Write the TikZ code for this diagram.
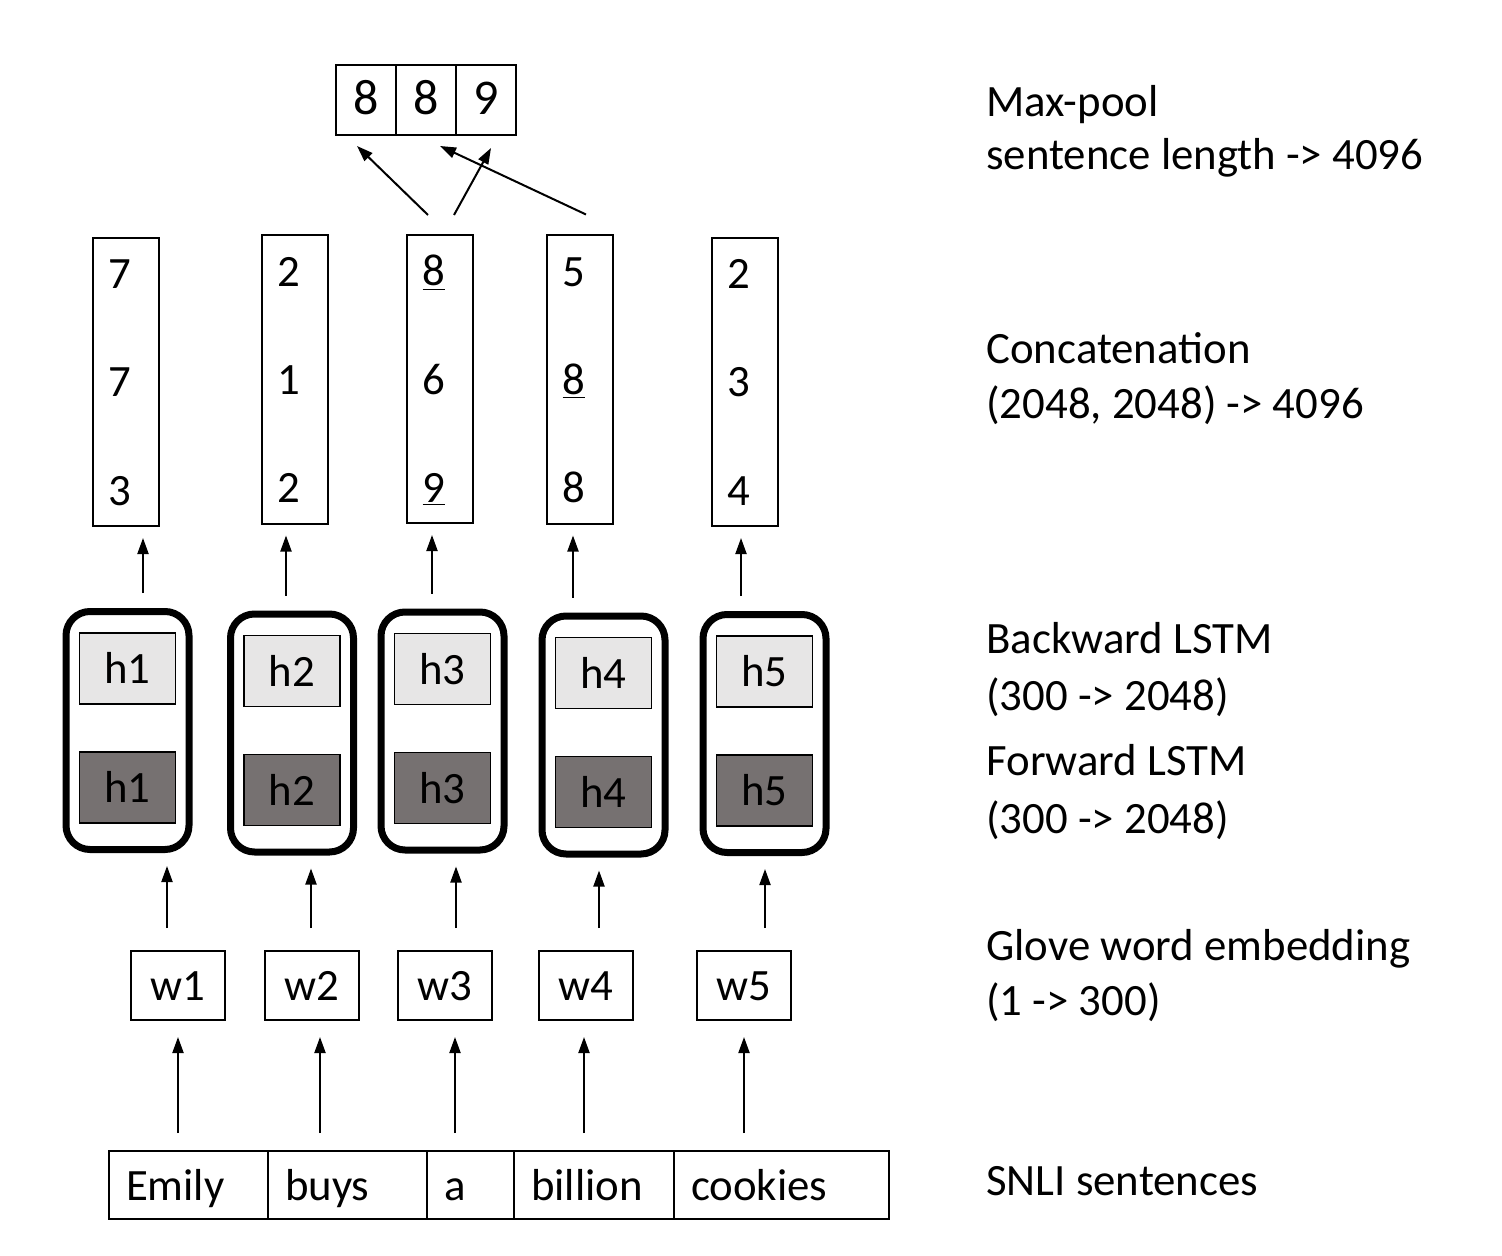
\documentclass[tikz,border=0pt]{standalone}
\usepackage{fontspec}
\setmainfont{Carlito}
\usetikzlibrary{arrows.meta, positioning}
\definecolor{bwdgray}{HTML}{E7E6E6}
\definecolor{fwdgray}{HTML}{767171}

\begin{document}
\begin{tikzpicture}[x=0.5pt,y=-0.5pt,>={Triangle[length=8pt,width=5.5pt]},
    font=\fontsize{22.4}{26}\selectfont,
    txt/.style={text height=19pt,text depth=4pt,inner sep=0pt},
    arr/.style={->,line width=1pt},
    pool/.style={draw,txt,font=\fontsize{25}{28}\selectfont,line width=1.25pt,minimum width=30pt,minimum height=35pt,outer sep=0pt},
    concat/.style={draw,line width=1pt,minimum width=33pt,minimum height=144pt},
    digit/.style={txt},
    lstm/.style={draw,line width=3.5pt,rounded corners=12pt,minimum width=61.5pt,minimum height=119pt},
    bwd/.style={draw,txt,fill=bwdgray,line width=0.75pt,minimum width=48pt,minimum height=35.5pt},
    fwd/.style={bwd,fill=fwdgray},
    wbox/.style={draw,txt,line width=1pt,minimum width=47pt,minimum height=34.5pt},
    word/.style={draw,txt,line width=1pt,minimum height=34pt,inner xsep=8.5pt,outer sep=0pt,align=left},
    lbl/.style={anchor=base west,inner sep=0pt}]
  \useasboundingbox (0,0) rectangle (1502,1256);

  % max-pool result
  \node[pool] (mp1) at (366,100) {8};
  \node[pool, right=0pt of mp1] (mp2) {8};
  \node[pool, right=0pt of mp2] (mp3) {9};

  % input sentence
  \node[word, text width=62.5pt, anchor=west] (sn1) at (109,1185) {Emily};
  \node[word, text width=62.5pt, right=0pt of sn1] (sn2) {buys};
  \node[word, text width=26.5pt, right=0pt of sn2] (sn3) {a};
  \node[word, text width=63pt, right=0pt of sn3] (sn4) {billion};
  \node[word, text width=90.5pt, right=0pt of sn4] (sn5) {cookies};

  % one column per word
  \foreach \i/\wx/\lx/\ly/\cx/\cy/\da/\db/\dc/\sx/\ax/\bx in {
      1/178/127.5/730.5/126/382/7/7/3/178/167/143,
      2/311.5/292/733/295/379.5/2/1/2/320/311/286,
      3/444.5/442.5/731/440/379/{\underline{8}}/6/{\underline{9}}/455/456/432,
      4/586/603.5/735/580/379.5/5/{\underline{8}}/8/584/599/573,
      5/744/764.5/733.5/745/382/2/3/4/744/765/741}{
    \node[wbox] (w\i) at (\wx,985.5) {w\i};
    \node[lstm] (lstm\i) at (\lx,\ly) {};
    \node[bwd] (bwd\i) at ([yshift=31pt]lstm\i.center) {h\i};
    \node[fwd] (fwd\i) at ([yshift=-28.5pt]lstm\i.center) {h\i};
    \node[concat] (cat\i) at (\cx,\cy) {};
    \node[digit] (cat\i-a) at ([shift={(-6,-108)}]cat\i.center) {\da};
    \node[digit] (cat\i-b) at ([shift={(-6,0)}]cat\i.center) {\db};
    \node[digit] (cat\i-c) at ([shift={(-6,108)}]cat\i.center) {\dc};
    \draw[arr, shorten <=9pt, shorten >=8pt] (sn\i.north -| \sx,0) -- (w\i.south -| \sx,0);
    \draw[arr, shorten <=11pt, shorten >=6.5pt] (w\i.north -| \ax,0) -- (lstm\i.south -| \ax,0);
    \draw[arr, shorten <=7.5pt, shorten >=5.5pt] (lstm\i.north -| \bx,0) -- (cat\i.south -| \bx,0);
  }

  % pooling
  \draw[arr] ([shift={(-12,-19)}]cat3.north) -- ([shift={(-9,11)}]mp1.south);
  \draw[arr] ([shift={(14,-19)}]cat3.north) -- ([shift={(5,13)}]mp3.south);
  \draw[arr] ([shift={(6,-20)}]cat4.north) -- ([shift={(14,11)}]mp2.south);

  % layer descriptions
  \foreach \lab/\y [count=\k] in {Max-pool/117, {sentence length -> 4096}/170,
      Concatenation/364, {(2048, 2048) -> 4096}/418,
      {Backward LSTM}/653, {(300 -> 2048)}/710,
      {Forward LSTM}/775, {(300 -> 2048)}/833,
      {Glove word embedding}/960, {(1 -> 300)}/1015,
      {SNLI sentences}/1195}
    \node[lbl] (lbl\k) at (986,\y) {\lab};
\end{tikzpicture}
\end{document}
